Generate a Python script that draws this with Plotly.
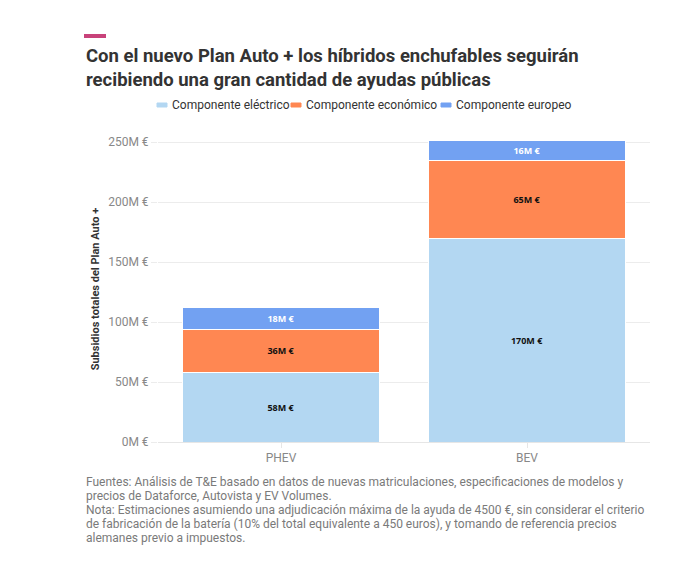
import plotly.graph_objects as go

categories = ["PHEV", "BEV"]
series_names = ["Componente eléctrico", "Componente económico", "Componente europeo"]
electrico = [58, 170]
economico = [36, 65]
europeo = [18, 16]
colors = ["#b3d7f2", "#ff8752", "#72a1f2"]
label_colors = ["#111111", "#111111", "#ffffff"]
y_ticks = [0, 50, 100, 150, 200, 250]
footnote_lines = [
    "Fuentes: Análisis de T&E basado en datos de nuevas matriculaciones, especificaciones de modelos y",
    "precios de Dataforce, Autovista y EV Volumes.",
    "Nota: Estimaciones asumiendo una adjudicación máxima de la ayuda de 4500 €, sin considerar el criterio",
    "de fabricación de la batería (10% del total equivalente a 450 euros), y tomando de referencia precios",
    "alemanes previo a impuestos.",
]

W, H = 698, 565
FONT = "Roboto"
PL, PR, PT, PB = 158, 650, 136, 442


def px(x):
    return (x - PL) / (PR - PL)


def py(y):
    return (PB - y) / (PB - PT)


fig = go.Figure()
for name, vals, col, lc in zip(series_names, [electrico, economico, europeo], colors, label_colors):
    fig.add_trace(go.Bar(
        x=categories, y=vals, name=name,
        marker=dict(color=col, line=dict(color="white", width=1)),
        text=[f"{v}M €" for v in vals], textposition="inside", insidetextanchor="middle",
        textfont=dict(family="Open Sans", size=9, color=lc, weight="bold"),
        constraintext="none", showlegend=False,
    ))

fig.update_layout(
    width=W, height=H, barmode="stack", bargap=0.2,
    margin=dict(l=PL, r=W - PR, t=PT, b=H - PB),
    paper_bgcolor="white", plot_bgcolor="white",
    font=dict(family=FONT, color="#333"),
    uniformtext=dict(minsize=8, mode="show"),
)
fig.update_yaxes(
    range=[0, 255], tickvals=y_ticks, ticktext=[f"{v}M €" for v in y_ticks],
    showgrid=True, gridcolor="#ececec", gridwidth=1, zeroline=False,
    ticks="outside", ticklen=6, tickcolor="#ececec",
    tickfont=dict(family=FONT, size=12, color="#888"),
    title=dict(text="<b>Subsidios totales del Plan Auto +</b>", font=dict(family=FONT, size=11, color="#333"), standoff=6),
)
fig.update_xaxes(
    showline=True, linecolor="#e6e6e6", ticks="outside", ticklen=5, tickcolor="#e6e6e6",
    tickfont=dict(family=FONT, size=12, color="#888"),
)

# accent bar
fig.add_shape(type="rect", xref="paper", yref="paper",
              x0=px(84), x1=px(106), y0=py(38), y1=py(34),
              fillcolor="#c8427a", line_width=0)

# title
fig.add_annotation(xref="paper", yref="paper",
                   x=px(84), y=py(43),
                   xanchor="left", yanchor="top", align="left", showarrow=False,
                   text="<b>Con el nuevo Plan Auto + los híbridos enchufables seguirán<br>recibiendo una gran cantidad de ayudas públicas</b>",
                   font=dict(family=FONT, size=18.5, color="#333"))

# legend (custom)
leg_x = [157, 291, 441]
for lx, name, col in zip(leg_x, series_names, colors):
    fig.add_shape(type="rect", xref="paper", yref="paper",
                  x0=px(lx), x1=px(lx + 10), y0=py(107), y1=py(103),
                  fillcolor=col, line=dict(color=col, width=1))
    fig.add_annotation(xref="paper", yref="paper",
                       x=px(lx + 13), y=py(105),
                       xanchor="left", yanchor="middle", showarrow=False,
                       text=name, font=dict(family=FONT, size=12, color="#333"))

# footnote
for i, line in enumerate(footnote_lines):
    fig.add_annotation(xref="paper", yref="paper",
                       x=px(84), y=py(482 + 14 * i),
                       xanchor="left", yanchor="middle", align="left", showarrow=False,
                       text=line, font=dict(family=FONT, size=12, color="#7a7a7a"))

fig.write_html("out.html")
